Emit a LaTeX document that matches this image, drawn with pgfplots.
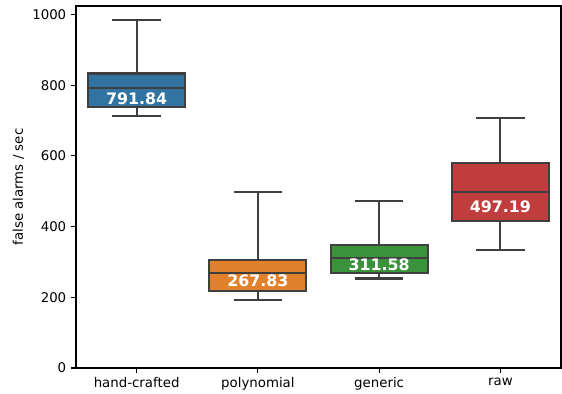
\documentclass[border=0pt]{standalone}
\usepackage{fontspec}
\setmainfont{DejaVu Sans}
\usepackage{pgfplots}
\pgfplotsset{compat=1.18}
\definecolor{c1}{RGB}{50,116,161}
\definecolor{c2}{RGB}{225,129,44}
\definecolor{c3}{RGB}{58,146,58}
\definecolor{c4}{RGB}{192,61,62}
\definecolor{lc}{RGB}{63,63,63}
\begin{document}
\begin{tikzpicture}
\begin{axis}[
  name=ax,
  scale only axis, width=349.2pt, height=260.6pt,
  xmin=-0.5, xmax=3.5, ymin=0, ymax=1024,
  xtick={0,1,2,3}, xticklabels={hand-crafted,polynomial,generic,raw},
  ytick={0,200,400,600,800,1000},
  xtick pos=bottom, ytick pos=left,
  tick align=outside, major tick length=3.5pt,
  tick style={black, line width=0.8pt},
  axis line style={black, line width=0.8pt},
  ticklabel style={font=\fontsize{9.6}{11}\selectfont},
  /pgf/number format/assume math mode=true,
  /pgf/number format/1000 sep={},
  ylabel={false alarms / sec},
  label style={font=\fontsize{9.6}{11}\selectfont},
  ylabel style={at={(axis description cs:-0.1188,0.5)}, anchor=center},
  ln/.style={draw=lc, line width=1.5pt, mark=none, solid},
  bx/.style={draw=lc, line width=1.5pt, mark=none, solid, line join=miter, fill=#1},
]
% hand-crafted
\addplot[ln] coordinates {(0,713) (0,737)};
\addplot[ln] coordinates {(0,833) (0,985)};
\addplot[ln] coordinates {(-0.2,713) (0.2,713)};
\addplot[ln] coordinates {(-0.2,985) (0.2,985)};
\addplot[bx=c1] coordinates {(-0.4,737) (0.4,737) (0.4,833) (-0.4,833)} -- cycle;
\addplot[ln] coordinates {(-0.4,791.84) (0.4,791.84)};
% polynomial
\addplot[ln] coordinates {(1,192) (1,218)};
\addplot[ln] coordinates {(1,305) (1,497)};
\addplot[ln] coordinates {(0.8,192) (1.2,192)};
\addplot[ln] coordinates {(0.8,497) (1.2,497)};
\addplot[bx=c2] coordinates {(0.6,218) (1.4,218) (1.4,305) (0.6,305)} -- cycle;
\addplot[ln] coordinates {(0.6,267.83) (1.4,267.83)};
% generic
\addplot[ln] coordinates {(2,253) (2,269)};
\addplot[ln] coordinates {(2,346.6) (2,472.6)};
\addplot[ln] coordinates {(1.8,253) (2.2,253)};
\addplot[ln] coordinates {(1.8,472.6) (2.2,472.6)};
\addplot[bx=c3] coordinates {(1.6,269) (2.4,269) (2.4,346.6) (1.6,346.6)} -- cycle;
\addplot[ln] coordinates {(1.6,311.58) (2.4,311.58)};
% raw
\addplot[ln] coordinates {(3,333) (3,416)};
\addplot[ln] coordinates {(3,581) (3,708)};
\addplot[ln] coordinates {(2.8,333) (3.2,333)};
\addplot[ln] coordinates {(2.8,708) (3.2,708)};
\addplot[bx=c4] coordinates {(2.6,416) (3.4,416) (3.4,581) (2.6,581)} -- cycle;
\addplot[ln] coordinates {(2.6,497.19) (3.4,497.19)};
\node[text=white, inner sep=0pt, font=\bfseries\fontsize{11.4}{13}\selectfont] at (axis cs:0,763) {791.84};
\node[text=white, inner sep=0pt, font=\bfseries\fontsize{11.4}{13}\selectfont] at (axis cs:1,246) {267.83};
\node[text=white, inner sep=0pt, font=\bfseries\fontsize{11.4}{13}\selectfont] at (axis cs:2,293) {311.58};
\node[text=white, inner sep=0pt, font=\bfseries\fontsize{11.4}{13}\selectfont] at (axis cs:3,456) {497.19};
\end{axis}
\pgfresetboundingbox
\path[use as bounding box] ([shift={(-54.72pt,-18.72pt)}]ax.south west) rectangle ([shift={(0.72pt,4.32pt)}]ax.north east);
\end{tikzpicture}
\end{document}
